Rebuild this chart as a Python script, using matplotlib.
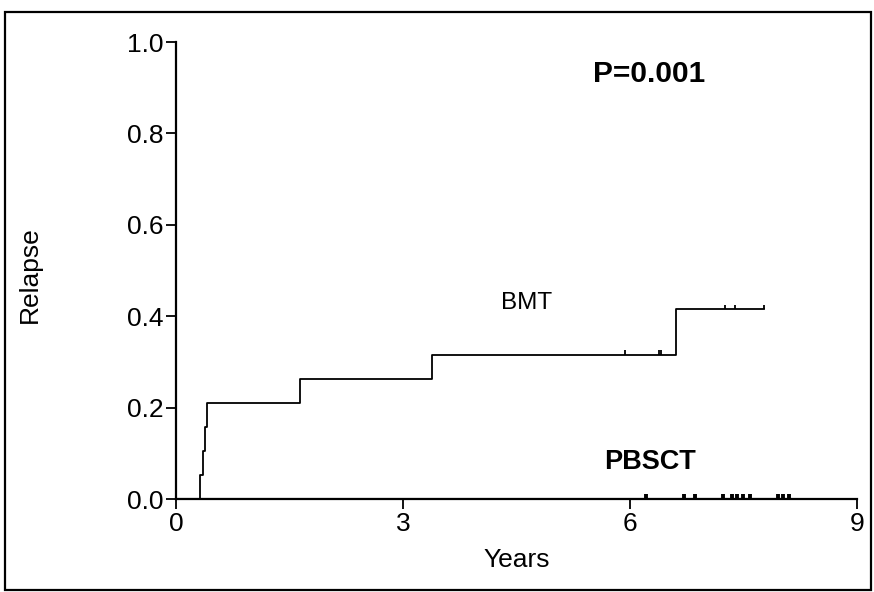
import matplotlib
matplotlib.use("Agg")
import matplotlib.pyplot as plt
from matplotlib.patches import Rectangle

plt.rcParams['font.family'] = ['Liberation Sans', 'DejaVu Sans']

# cumulative incidence of relapse
bmt_times = [0, 0.32, 0.35, 0.38, 0.41, 1.64, 3.38, 6.61, 7.77]
bmt_relapse = [0, 0.053, 0.105, 0.158, 0.211, 0.263, 0.316, 0.415, 0.415]
bmt_censored = [5.94, 6.38, 6.41, 7.25, 7.39, 7.77]

pbsct_times = [0, 8.12]
pbsct_relapse = [0, 0]
pbsct_censored = [6.21, 6.72, 6.86, 7.23, 7.35, 7.42, 7.50, 7.58, 7.95, 8.02, 8.10]

x_ticks = [0, 3, 6, 9]
y_ticks = [0.0, 0.2, 0.4, 0.6, 0.8, 1.0]


def censor_heights(times, curve_t, curve_y):
    out = []
    for t in times:
        level = 0
        for ct, cy in zip(curve_t, curve_y):
            if ct <= t:
                level = cy
        out.append(level)
    return out


fig = plt.figure(figsize=(8.74, 5.92), dpi=100)
ax = fig.add_axes([0.2014, 0.157, 0.7791, 0.772])

ax.step(bmt_times, bmt_relapse, where='post', color='black', lw=1.3, zorder=3)
b_lv = censor_heights(bmt_censored, bmt_times, bmt_relapse)
ax.vlines(bmt_censored, b_lv, [v + 0.01 for v in b_lv], color='black', lw=1.3, zorder=3)

ax.step(pbsct_times, pbsct_relapse, where='post', color='black', lw=2.2, zorder=3)
p_lv = censor_heights(pbsct_censored, pbsct_times, pbsct_relapse)
ax.vlines(pbsct_censored, p_lv, [v + 0.012 for v in p_lv], color='black', lw=2.8, zorder=3)

ax.set_xlim(0, 9)
ax.set_ylim(0, 1.0)
ax.set_xticks(x_ticks)
ax.set_xticklabels([str(t) for t in x_ticks])
ax.set_yticks(y_ticks)
ax.set_yticklabels([f"{v:.1f}" for v in y_ticks])
ax.spines['top'].set_visible(False)
ax.spines['right'].set_visible(False)
for s in ['left', 'bottom']:
    ax.spines[s].set_linewidth(1.6)
    ax.spines[s].set_clip_on(False)
ax.tick_params(direction='out', length=7, width=1.3, labelsize=19, pad=2)
ax.set_xlabel('Years', fontsize=19, labelpad=9)
ax.set_ylabel('Relapse', fontsize=19)
ax.yaxis.set_label_coords(-0.197, 0.49)

ax.text(6.25, 0.93, 'P=0.001', fontsize=21.5, fontweight='bold', ha='center', va='center')
ax.text(4.63, 0.428, 'BMT', fontsize=17.5, ha='center', va='center')
ax.text(6.26, 0.082, 'PBSCT', fontsize=19.5, fontweight='bold', ha='center', va='center')

# frame round the whole picture
fig.patches.append(Rectangle((0.006, 0.004), 0.990, 0.975, transform=fig.transFigure,
                             fill=False, edgecolor='black', lw=1.6))

fig.savefig('out.png', dpi=100)
